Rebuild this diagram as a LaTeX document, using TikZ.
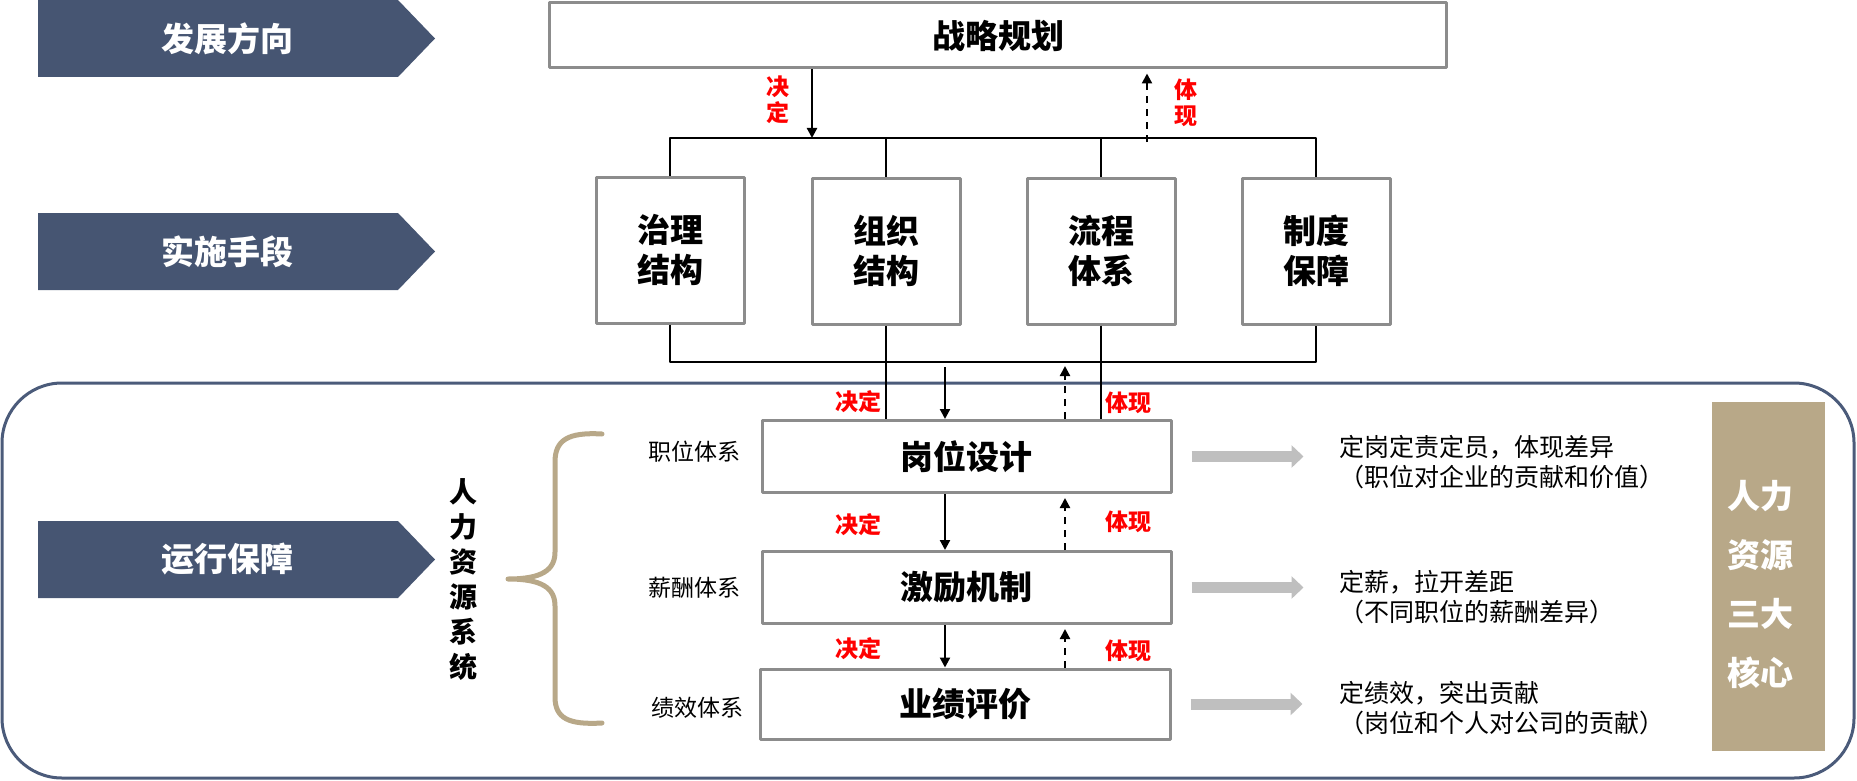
\documentclass[tikz,border=0pt]{standalone}
\usepackage{fontspec}
\setmainfont{Noto Sans CJK SC}
\usetikzlibrary{arrows.meta}
\definecolor{banner}{HTML}{465572}
\definecolor{frame}{HTML}{4B5B7A}
\definecolor{boxgray}{HTML}{8C8C8C}
\definecolor{arrowgray}{HTML}{BFBFBF}
\definecolor{tan}{HTML}{B8A888}
\begin{document}
\begin{tikzpicture}[x=0.5pt, y=-0.5pt, line join=round, >={Triangle[length=5pt,width=5pt]},
	conn/.style={line width=1.1pt},
	dashconn/.style={line width=1.1pt, dash pattern=on 3.5pt off 3pt},
	box/.style={draw=boxgray, line width=1.5pt, fill=white, inner sep=0pt, align=center, font=\bfseries\fontsize{16.5}{20}\selectfont},
	redlab/.style={text=red, align=center, font=\bfseries\fontsize{11.5}{13}\selectfont},
	sidelab/.style={font=\fontsize{11.5}{14}\selectfont},
	note/.style={anchor=west, align=left, font=\fontsize{12.5}{15}\selectfont},
	fat/.style={draw=arrowgray, line width=5.5pt, -{Triangle[length=6pt,width=11pt]}}]
	\useasboundingbox (0,0) rectangle (1857,781);
	% banners
	\foreach \y/\t [count=\i] in {0/发展方向,213/实施手段,521/运行保障}{
		\fill[banner] (38,\y) -- (398,\y) -- (435,\y+38.5) -- (398,\y+77) -- (38,\y+77) -- cycle;
		\node[text=white, font=\bfseries\fontsize{16.5}{20}\selectfont] (b\i) at (227,\y+38.5) {\t};
	}
	\draw[frame, line width=1.5pt, rounded corners=30pt] (2,383) rectangle (1854,778);
	% boxes
	\node[box, minimum width=448.5pt, minimum height=32.5pt] (plan) at (998,35.5) {战略规划};
	\node[box, minimum width=74pt, minimum height=73pt] (zl) at (670,250) {治理\\结构};
	\node[box, minimum width=74pt, minimum height=73pt] (zz) at (886,251) {组织\\结构};
	\node[box, minimum width=74pt, minimum height=73pt] (lc) at (1101,251) {流程\\体系};
	\node[box, minimum width=74pt, minimum height=73pt] (zd) at (1316,251) {制度\\保障};
	\node[box, minimum width=204.5pt, minimum height=36pt] (gw) at (966.5,456.5) {岗位设计};
	\node[box, minimum width=204.5pt, minimum height=36pt] (jl) at (966.5,587.5) {激励机制};
	\node[box, minimum width=205pt, minimum height=35pt] (yj) at (965,704) {业绩评价};
	\path
	(0,138) coordinate (tb)
	(0,362) coordinate (bb)
	(812,138) coordinate (d0)
	(1147,142) coordinate (r0)
	(945,367) coordinate (d1)
	(1065,366) coordinate (r1)
	;
	\draw[conn] (zl.north) |- (zd.north |- tb) -- (zd.north) (zz.north) -- (zz.north |- tb) (lc.north) -- (lc.north |- tb);
	\draw[conn] (zl.south) |- (zd.south |- bb) -- (zd.south) (zz.south) -- (zz.south |- gw.north) (lc.south) -- (lc.south |- gw.north);
	\draw[conn,->] (plan.south -| d0) -- (d0);
	\draw[dashconn,->] (r0) -- ([yshift=-2pt]plan.south -| r0);
	\draw[conn,->] (d1) -- (d1 |- gw.north);
	\draw[dashconn,->] (gw.north -| r1) -- (r1);
	\foreach \a/\b in {gw/jl,jl/yj}{
		\draw[conn,->] (\a.south -| d1) -- (\b.north -| d1);
		\draw[dashconn,->] (\b.north -| r1) -- ([yshift=-2pt]\a.south -| r1);
	}
	% labels
	\node[redlab] (dj0) at (778,100) {决\\定};
	\node[redlab] (tx0) at (1186,103) {体\\现};
	\foreach \y/\z [count=\i] in {402/403,525/522,649/651}{
		\node[redlab] (dj\i) at (858,\y) {决定};
		\node[redlab] (tx\i) at (1128,\z) {体现};
	}
	\foreach \n/\x/\y/\t in {s1/694/452/职位体系,s2/694/588/薪酬体系,s3/697/708/绩效体系}
	\node[sidelab] (\n) at (\x,\y) {\t};
	% brace
	\draw[tan, line width=2.5pt, line cap=round] (602,434) .. controls (568,432) and (555,440) .. (555,462) -- (555,552)
	.. controls (555,570) and (542,579) .. (508,579) .. controls (542,579) and (555,588) .. (555,606) -- (555,697)
	.. controls (555,718) and (568,725) .. (602,723);
	\node[font=\bfseries\fontsize{14}{17.5}\selectfont, align=center] (hr) at (463,580) {人\\力\\资\\源\\系\\统};
	% notes
	\foreach \n/\y/\a/\b in {gw/462/定岗定责定员，体现差异/（职位对企业的贡献和价值）,jl/597/定薪，拉开差距/（不同职位的薪酬差异）,yj/708/定绩效，突出贡献/（岗位和个人对公司的贡献）}{
		\draw[fat] ([xshift=9.5pt]\n.east) -- ++(56pt,0);
		\node[note] (m\n) at (1332,\y) {\a\\\b};
	}
	\fill[tan] (1712,402) rectangle (1825,751);
	\node[text=white, align=center, font=\bfseries\fontsize{16.5}{29.5}\selectfont] (hx) at (1760,584) {人力\\资源\\三大\\核心};
\end{tikzpicture}
\end{document}
